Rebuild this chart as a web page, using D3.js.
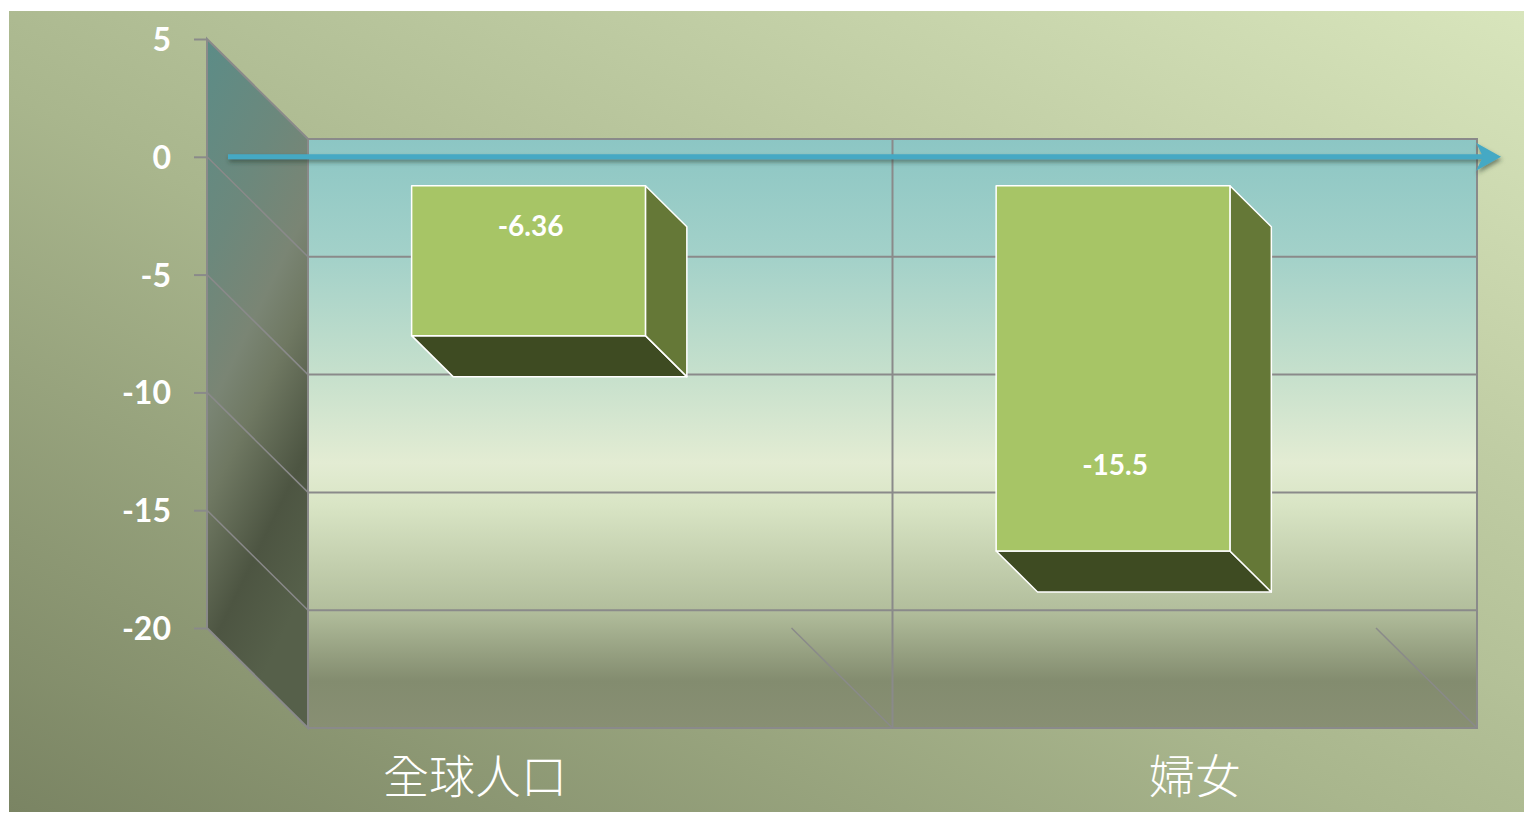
<!DOCTYPE html>
<html>
<head>
<meta charset="utf-8">
<script src="https://cdn.jsdelivr.net/npm/d3@7/dist/d3.min.js"></script>
<style>
  html, body { margin: 0; padding: 0; background: #ffffff; }
  svg { display: block; }
</style>
</head>
<body>
<svg id="chart" width="1526" height="814"></svg>
<script>
// ---- data ----
const categories = ["全球人口", "婦女"];
const values = [-6.36, -15.5];
const valueLabels = ["-6.36", "-15.5"];
const tickValues = [5, 0, -5, -10, -15, -20];
const tickLabels = ["5", "0", "-5", "-10", "-15", "-20"];

// ---- layout ----
const svg = d3.select("#chart");
const DX = 101, DY = 100;           // full depth offset of the 3D box
const barDepth0 = 0.29, barDepth1 = 0.70; // bar front/back as fraction of depth

const yFront = d3.scaleLinear().domain([-20, 5]).range([628, 39]);
const xFront = d3.scaleBand().domain(categories).range([207, 1376]).paddingInner(0).paddingOuter(0);
const depth = d3.scaleLinear().domain([0, 1]).range([0, 1]);
const P = (x, y, d) => [x + DX * depth(d), y + DY * depth(d)]; // project front-plane point to depth d
const labelX = d3.scalePoint().domain(categories).range([475, 1195]);

const defs = svg.append("defs");
function linGrad(id, x1, y1, x2, y2, stops) {
  const g = defs.append("linearGradient").attr("id", id)
    .attr("x1", x1).attr("y1", y1).attr("x2", x2).attr("y2", y2);
  stops.forEach(s => g.append("stop").attr("offset", s[0]).attr("stop-color", s[1]));
}
linGrad("bg", 0, 1, 1, 0, [[0, "#7a8463"], [0.45, "#a9b68d"], [1, "#d8e5bc"]]);
linGrad("back", 0, 0, 0, 1, [
  [0, "#8cc6c4"], [0.2, "#a3d1c9"], [0.4, "#c6e0cc"], [0.55, "#e3ecd3"], [0.62, "#d9e5c5"],
  [0.8, "#b2be9c"], [0.92, "#838c6f"], [1, "#888f73"]]);
linGrad("side", 0, 0, 0.3, 1, [
  [0, "#5c8c87"], [0.3, "#6c887c"], [0.5, "#7a8574"], [0.62, "#6f7862"], [0.82, "#4d5542"], [1, "#56604a"]]);
const f = defs.append("filter").attr("id", "shadow").attr("x", "-5%").attr("y", "-100%").attr("width", "110%").attr("height", "400%");
f.append("feDropShadow").attr("dx", 1).attr("dy", 3).attr("stdDeviation", 2).attr("flood-color", "#2a3a30").attr("flood-opacity", 0.55);

// background
svg.append("rect").attr("x", 9).attr("y", 11).attr("width", 1515).attr("height", 801).attr("fill", "url(#bg)");

const gridColor = "#8a8a8a";
const y0 = yFront.domain()[1], yMin = yFront.domain()[0];
const xL = xFront.range()[0], xR = xFront.range()[1];

// back wall
const bTL = P(xL, yFront(y0), 1), bBR = P(xR, yFront(yMin), 1);
svg.append("rect").attr("x", bTL[0]).attr("y", bTL[1])
  .attr("width", bBR[0] - bTL[0]).attr("height", bBR[1] - bTL[1])
  .attr("fill", "url(#back)").attr("stroke", gridColor).attr("stroke-width", 2);

// back wall gridlines
svg.append("g").selectAll("line").data(tickValues.filter(t => t !== y0 && t !== yMin)).join("line")
  .attr("x1", d => P(xL, yFront(d), 1)[0]).attr("x2", d => P(xR, yFront(d), 1)[0])
  .attr("y1", d => P(xL, yFront(d), 1)[1]).attr("y2", d => P(xR, yFront(d), 1)[1])
  .attr("stroke", gridColor).attr("stroke-width", 2);

// back wall category dividers
svg.append("g").selectAll("line").data(categories.slice(1)).join("line")
  .attr("x1", d => P(xFront(d), 0, 1)[0]).attr("x2", d => P(xFront(d), 0, 1)[0])
  .attr("y1", bTL[1]).attr("y2", bBR[1])
  .attr("stroke", gridColor).attr("stroke-width", 2);

// floor dividers (diagonals)
svg.append("g").selectAll("line").data(categories).join("line")
  .attr("x1", d => xFront(d) + xFront.bandwidth()).attr("y1", yFront(yMin))
  .attr("x2", d => P(xFront(d) + xFront.bandwidth(), yFront(yMin), 1)[0])
  .attr("y2", d => P(xFront(d) + xFront.bandwidth(), yFront(yMin), 1)[1])
  .attr("stroke", gridColor).attr("stroke-width", 1.5);

// side wall
const sidePts = [[xL, yFront(y0)], P(xL, yFront(y0), 1), P(xL, yFront(yMin), 1), [xL, yFront(yMin)]];
svg.append("polygon").attr("points", sidePts.map(p => p.join(",")).join(" "))
  .attr("fill", "url(#side)").attr("stroke", gridColor).attr("stroke-width", 2);
svg.append("g").selectAll("line").data(tickValues.filter(t => t !== y0 && t !== yMin)).join("line")
  .attr("x1", xL).attr("y1", d => yFront(d))
  .attr("x2", d => P(xL, yFront(d), 1)[0]).attr("y2", d => P(xL, yFront(d), 1)[1])
  .attr("stroke", gridColor).attr("stroke-width", 1.5);

// y axis
const axis = d3.axisLeft(yFront).tickValues(tickValues)
  .tickFormat((d, i) => tickLabels[i]).tickSize(13).tickPadding(23);
const ag = svg.append("g").attr("transform", `translate(${xL},0)`).call(axis);
ag.select(".domain").attr("stroke", gridColor).attr("stroke-width", 2).attr("d", `M0,${yFront(y0)}V${yFront(yMin)}`);
ag.selectAll(".tick line").attr("stroke", gridColor).attr("stroke-width", 2);
ag.selectAll(".tick text").attr("fill", "#ffffff").attr("font-family", "Lato, 'Open Sans', sans-serif")
  .attr("font-weight", "bold").attr("font-size", 32).attr("dy", "0.36em");

// bars
const barFrac = 0.4;
const labelFrac = [0.27, 0.765];
const bars = svg.append("g");
categories.forEach((c, i) => {
  const v = values[i];
  const bw = xFront.bandwidth() * barFrac;
  const fx = xFront(c) + (xFront.bandwidth() - bw) / 2;
  const yTop = yFront(0), yBot = yFront(v);
  const F = (x, y) => P(x, y, barDepth0);
  const B = (x, y) => P(x, y, barDepth1);
  const ftl = F(fx, yTop), ftr = F(fx + bw, yTop), fbr = F(fx + bw, yBot), fbl = F(fx, yBot);
  const btr = B(fx + bw, yTop), bbr = B(fx + bw, yBot), bbl = B(fx, yBot);
  const poly = pts => pts.map(p => p.join(",")).join(" ");
  bars.append("polygon").attr("points", poly([fbl, fbr, bbr, bbl]))
    .attr("fill", "#3e4b22").attr("stroke", "#ffffff").attr("stroke-width", 1.5).attr("stroke-linejoin", "round");
  bars.append("polygon").attr("points", poly([ftr, btr, bbr, fbr]))
    .attr("fill", "#657837").attr("stroke", "#ffffff").attr("stroke-width", 1.5).attr("stroke-linejoin", "round");
  bars.append("polygon").attr("points", poly([ftl, ftr, fbr, fbl]))
    .attr("fill", "#a7c566").attr("stroke", "#ffffff").attr("stroke-width", 1.5).attr("stroke-linejoin", "round");
  bars.append("text")
    .attr("x", (ftl[0] + ftr[0]) / 2 + 2)
    .attr("y", ftl[1] + (fbl[1] - ftl[1]) * labelFrac[i])
    .attr("dy", "0.36em")
    .attr("text-anchor", "middle")
    .attr("fill", "#ffffff").attr("font-family", "Lato, 'Open Sans', sans-serif")
    .attr("font-weight", "bold").attr("font-size", 28)
    .text(valueLabels[i]);
});

// zero arrow (front plane)
const ay = yFront(0);
const arrowG = svg.append("g").attr("filter", "url(#shadow)");
arrowG.append("line").attr("x1", 228).attr("x2", 1488).attr("y1", ay).attr("y2", ay)
  .attr("stroke", "#45a9c4").attr("stroke-width", 5);
arrowG.append("polygon")
  .attr("points", `1476,${ay - 14} 1501,${ay} 1476,${ay + 14} 1483,${ay}`)
  .attr("fill", "#45a9c4");

// category labels
svg.append("g").selectAll("text").data(categories).join("text")
  .attr("x", d => labelX(d)).attr("y", 793)
  .attr("text-anchor", "middle")
  .attr("fill", "#ffffff")
  .attr("font-family", "'Noto Sans CJK TC', 'Noto Sans CJK SC', sans-serif")
  .attr("font-weight", 300)
  .attr("font-size", 46)
  .text(d => d);
</script>
</body>
</html>
